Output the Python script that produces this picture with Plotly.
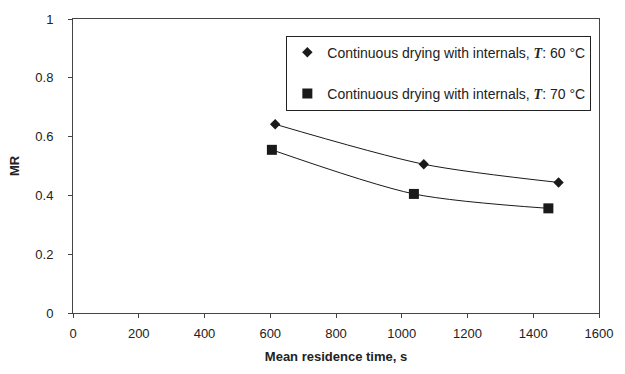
import plotly.graph_objects as go

# data
time_60 = [615, 1067, 1477]
mr_60 = [0.642, 0.506, 0.444]
time_70 = [605, 1037, 1446]
mr_70 = [0.555, 0.405, 0.356]
name_60 = "Continuous drying with internals, <span style='font-family:Liberation Serif'><b><i>T</i></b></span>: 60 °C"
name_70 = "Continuous drying with internals, <span style='font-family:Liberation Serif'><b><i>T</i></b></span>: 70 °C"
x_ticks = [0, 200, 400, 600, 800, 1000, 1200, 1400, 1600]
y_ticks = [0, 0.2, 0.4, 0.6, 0.8, 1]
y_tick_text = ["0", "0.2", "0.4", "0.6", "0.8", "1"]

ink = "#1a1a1a"
font_fam = "Liberation Sans, Arial"
fig = go.Figure()
# trend curves
fig.add_trace(go.Scatter(x=time_60, y=mr_60, mode="lines", line=dict(color=ink, width=1, shape="spline", smoothing=0.8),
                         showlegend=False, hoverinfo="skip"))
fig.add_trace(go.Scatter(x=time_70, y=mr_70, mode="lines", line=dict(color=ink, width=1, shape="spline", smoothing=0.8),
                         showlegend=False, hoverinfo="skip"))
# markers
fig.add_trace(go.Scatter(x=time_60, y=mr_60, mode="markers", name=name_60, legendgroup="a",
                         marker=dict(symbol="diamond", size=8, color=ink)))
fig.add_trace(go.Scatter(x=time_70, y=mr_70, mode="markers", name=name_70, legendgroup="b",
                         marker=dict(symbol="square", size=10, color=ink)))

axis_common = dict(showline=True, linecolor="#444", linewidth=1, mirror=True, ticks="outside",
                   ticklen=4, tickcolor="#444", showgrid=False, zeroline=False,
                   tickfont=dict(family=font_fam, size=13, color="#222"))
fig.update_xaxes(range=[0, 1600], tickvals=x_ticks, ticklabelstandoff=4, **axis_common,
                 title=dict(text="<b>Mean residence time, s</b>", standoff=12,
                            font=dict(family=font_fam, size=13, color="#222")))
fig.update_yaxes(range=[0, 1], tickvals=y_ticks, ticktext=y_tick_text, ticklabelstandoff=12, **axis_common,
                 title=dict(text="<b>MR</b>", standoff=12,
                            font=dict(family=font_fam, size=13, color="#222")))

fig.update_layout(
    width=625, height=374,
    margin=dict(l=73, r=17, t=12, b=61),
    paper_bgcolor="white", plot_bgcolor="white",
    legend=dict(x=(290 - 73) / 535, y=(313 - 29) / 301, xanchor="left", yanchor="top",
                bordercolor="#222", borderwidth=1, bgcolor="white",
                font=dict(family=font_fam, size=14, color="#222"),
                tracegroupgap=20, itemwidth=30),
)
fig.write_html("out.html")
